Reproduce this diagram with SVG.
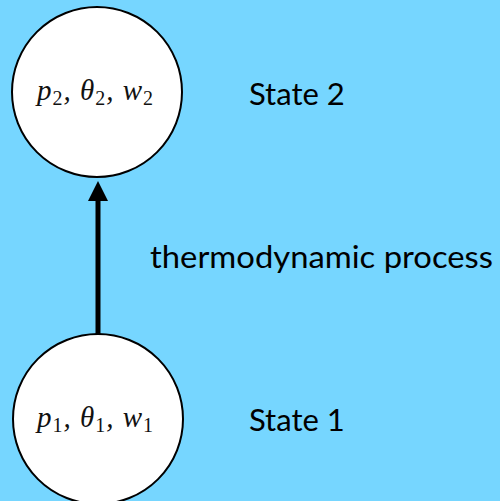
<svg xmlns="http://www.w3.org/2000/svg" width="500" height="501" viewBox="0 0 500 501">
<style>
.node{fill:#ffffff;stroke:#000000;stroke-width:2}
.math{font-family:"Liberation Serif","DejaVu Serif",serif;font-size:29px;font-style:italic;fill:#111}
.sub{font-style:normal;font-size:20px}
.lbl{font-family:Lato,"Open Sans","Liberation Sans",sans-serif;font-size:31px;fill:#000}
</style>
<defs>
<marker id="ah" markerWidth="4" markerHeight="4" refX="0" refY="2" orient="auto" markerUnits="strokeWidth">
<path d="M0,0 L4,2 L0,4 Z" fill="#000"/>
</marker>
</defs>
<rect x="0" y="0" width="500" height="501" fill="#76D6FF"/>
<g id="connectors">
<line x1="98" y1="334" x2="98" y2="201" stroke="#000" stroke-width="5" marker-end="url(#ah)"/>
</g>
<g id="state2">
<circle class="node" cx="97" cy="92" r="85"/>
<text class="math" x="37" y="100" textLength="116" lengthAdjust="spacing">p<tspan class="sub" dy="5">2</tspan><tspan dy="-5">, θ</tspan><tspan class="sub" dy="5">2</tspan><tspan dy="-5">, w</tspan><tspan class="sub" dy="5">2</tspan></text>
</g>
<g id="state1">
<circle class="node" cx="98" cy="419" r="85"/>
<text class="math" x="37" y="427" textLength="116" lengthAdjust="spacing">p<tspan class="sub" dy="5">1</tspan><tspan dy="-5">, θ</tspan><tspan class="sub" dy="5">1</tspan><tspan dy="-5">, w</tspan><tspan class="sub" dy="5">1</tspan></text>
</g>
<g id="labels">
<text class="lbl" x="249" y="105">State 2</text>
<text class="lbl" x="150" y="268" textLength="343" lengthAdjust="spacingAndGlyphs">thermodynamic process</text>
<text class="lbl" x="249" y="431">State 1</text>
</g>
</svg>
